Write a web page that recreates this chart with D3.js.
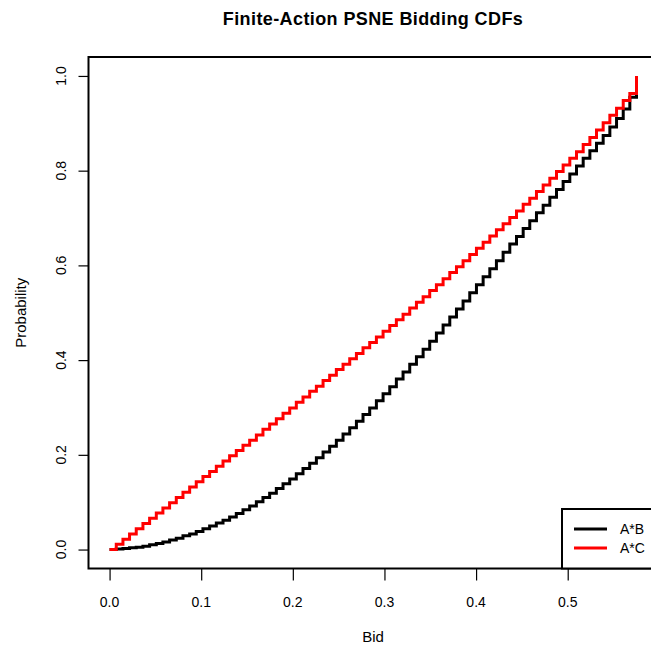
<!DOCTYPE html>
<html>
<head>
<meta charset="utf-8">
<script src="https://cdn.jsdelivr.net/npm/d3@7"></script>
<style>
  body { margin: 0; background: #fff; }
  svg { display: block; }
  text { font-family: "Liberation Sans", Arial, sans-serif; fill: #000; }
</style>
</head>
<body>
<div id="chart"></div>
<script>
// finite action set (bids)
const bids = [
  0, 0.0073, 0.0146, 0.0218, 0.0291, 0.0364, 0.0437, 0.0510, 0.0582, 0.0655,
  0.0728, 0.0801, 0.0874, 0.0946, 0.1019, 0.1092, 0.1165, 0.1238, 0.1310, 0.1383,
  0.1456, 0.1529, 0.1602, 0.1674, 0.1747, 0.1820, 0.1893, 0.1966, 0.2038, 0.2111,
  0.2184, 0.2257, 0.2330, 0.2402, 0.2475, 0.2548, 0.2621, 0.2694, 0.2766, 0.2839,
  0.2912, 0.2985, 0.3058, 0.3130, 0.3203, 0.3276, 0.3349, 0.3422, 0.3494, 0.3567,
  0.3640, 0.3713, 0.3786, 0.3858, 0.3931, 0.4004, 0.4077, 0.4150, 0.4222, 0.4295,
  0.4368, 0.4441, 0.4514, 0.4586, 0.4659, 0.4732, 0.4805, 0.4878, 0.4950, 0.5023,
  0.5096, 0.5169, 0.5242, 0.5314, 0.5387, 0.5460, 0.5533, 0.5606, 0.5678, 0.5751
];

// CDF of A*B
const cdfAB = [
  0, 0.001, 0.002, 0.004, 0.005, 0.007, 0.010, 0.013, 0.016, 0.020,
  0.024, 0.029, 0.033, 0.038, 0.044, 0.050, 0.056, 0.062, 0.069, 0.076,
  0.084, 0.092, 0.101, 0.110, 0.119, 0.129, 0.139, 0.149, 0.160, 0.171,
  0.182, 0.194, 0.206, 0.218, 0.231, 0.244, 0.257, 0.271, 0.285, 0.299,
  0.314, 0.329, 0.344, 0.360, 0.375, 0.391, 0.407, 0.423, 0.440, 0.457,
  0.474, 0.491, 0.508, 0.525, 0.542, 0.559, 0.576, 0.593, 0.610, 0.628,
  0.645, 0.661, 0.678, 0.694, 0.711, 0.727, 0.744, 0.760, 0.777, 0.793,
  0.810, 0.826, 0.842, 0.858, 0.874, 0.892, 0.910, 0.930, 0.955, 1.000
];

// CDF of A*C
const cdfAC = [
  0, 0.011, 0.022, 0.033, 0.044, 0.055, 0.066, 0.077, 0.088, 0.099,
  0.110, 0.121, 0.132, 0.143, 0.154, 0.165, 0.176, 0.187, 0.198, 0.209,
  0.220, 0.231, 0.242, 0.254, 0.265, 0.276, 0.288, 0.299, 0.311, 0.322,
  0.334, 0.345, 0.357, 0.368, 0.380, 0.391, 0.403, 0.414, 0.426, 0.437,
  0.449, 0.461, 0.473, 0.485, 0.497, 0.510, 0.522, 0.534, 0.547, 0.559,
  0.572, 0.585, 0.597, 0.610, 0.623, 0.636, 0.649, 0.662, 0.675, 0.688,
  0.701, 0.715, 0.729, 0.742, 0.756, 0.770, 0.784, 0.798, 0.812, 0.826,
  0.840, 0.855, 0.870, 0.886, 0.901, 0.917, 0.932, 0.948, 0.963, 1.000
];

const seriesNames = ['A*B', 'A*C'];
const seriesColors = ['#000000', '#ff0000'];
const xTicks = [0, 0.1, 0.2, 0.3, 0.4, 0.5];
const yTicks = [0, 0.2, 0.4, 0.6, 0.8, 1.0];

let width = 651,
    height = 647,
    plot = { left: 88.5, top: 57, right: 657.5, bottom: 568.5 };

let svg = d3.select('#chart')
    .append('svg')
    .attr('width', width)
    .attr('height', height);

// R style: data range padded by 4% each side
let xScale = d3.scaleLinear()
    .domain([-0.023, 0.598])
    .range([plot.left, plot.right]);

let yScale = d3.scaleLinear()
    .domain([-0.04, 1.04])
    .range([plot.bottom, plot.top]);

svg.append('clipPath')
    .attr('id', 'plotClip')
    .append('rect')
    .attr('x', plot.left)
    .attr('y', plot.top)
    .attr('width', plot.right - plot.left)
    .attr('height', plot.bottom - plot.top);

let line = d3.line()
    .x(function(d) { return xScale(d[0]); })
    .y(function(d) { return yScale(d[1]); })
    .curve(d3.curveStepAfter);

let series = [cdfAB, cdfAC].map(function(vals) {
    return bids.map(function(b, i) { return [b, vals[i]]; });
});

let g = svg.append('g').attr('clip-path', 'url(#plotClip)');

series.forEach(function(s, i) {
    g.append('path')
        .datum(s)
        .attr('d', line)
        .attr('fill', 'none')
        .attr('stroke', seriesColors[i])
        .attr('stroke-width', 3)
        .attr('stroke-linejoin', 'miter');
});

// axes (R style ticks, labels drawn by hand)
let xAxis = d3.axisBottom(xScale)
    .tickValues(xTicks)
    .tickSize(12)
    .tickFormat('');

let yAxis = d3.axisLeft(yScale)
    .tickValues(yTicks)
    .tickSize(10)
    .tickFormat('');

svg.append('g')
    .attr('transform', 'translate(0,' + plot.bottom + ')')
    .call(xAxis)
    .call(function(a) { a.select('.domain').remove(); })
    .selectAll('line').attr('stroke', '#000').attr('stroke-width', 1.2);

svg.append('g')
    .attr('transform', 'translate(' + plot.left + ',0)')
    .call(yAxis)
    .call(function(a) { a.select('.domain').remove(); })
    .selectAll('line').attr('stroke', '#000').attr('stroke-width', 1.2);

svg.selectAll('.xlab')
    .data(xTicks)
    .enter().append('text')
    .attr('x', function(d) { return xScale(d); })
    .attr('y', 607)
    .attr('text-anchor', 'middle')
    .style('font-size', '14px')
    .text(function(d) { return d3.format('.1f')(d); });

svg.selectAll('.ylab')
    .data(yTicks)
    .enter().append('text')
    .attr('transform', function(d) { return 'translate(66,' + yScale(d) + ') rotate(-90)'; })
    .attr('text-anchor', 'middle')
    .style('font-size', '14px')
    .text(function(d) { return d3.format('.1f')(d); });

// plot box
svg.append('rect')
    .attr('x', plot.left)
    .attr('y', plot.top)
    .attr('width', plot.right - plot.left)
    .attr('height', plot.bottom - plot.top)
    .attr('fill', 'none')
    .attr('stroke', '#000')
    .attr('stroke-width', 2);

// titles
svg.append('text')
    .attr('x', (plot.left + plot.right) / 2)
    .attr('y', 25)
    .attr('text-anchor', 'middle')
    .style('font-size', '18px')
    .style('font-weight', 'bold')
    .style('letter-spacing', '0.4px')
    .text('Finite-Action PSNE Bidding CDFs');

svg.append('text')
    .attr('x', (plot.left + plot.right) / 2)
    .attr('y', 642)
    .attr('text-anchor', 'middle')
    .style('font-size', '15px')
    .text('Bid');

svg.append('text')
    .attr('transform', 'translate(26,' + (plot.top + plot.bottom) / 2 + ') rotate(-90)')
    .attr('text-anchor', 'middle')
    .style('font-size', '15px')
    .text('Probability');

// legend, bottom right
let legend = svg.append('g').attr('transform', 'translate(562,509)');

legend.append('rect')
    .attr('x', 0)
    .attr('y', 0)
    .attr('width', 120)
    .attr('height', plot.bottom - 509)
    .attr('fill', '#fff')
    .attr('stroke', '#000')
    .attr('stroke-width', 2);

seriesNames.forEach(function(name, i) {
    legend.append('line')
        .attr('x1', 12)
        .attr('x2', 45)
        .attr('y1', 20 + i * 19)
        .attr('y2', 20 + i * 19)
        .attr('stroke', seriesColors[i])
        .attr('stroke-width', 3);
    legend.append('text')
        .attr('x', 58)
        .attr('y', 25 + i * 19)
        .style('font-size', '14px')
        .text(name);
});
</script>
</body>
</html>
